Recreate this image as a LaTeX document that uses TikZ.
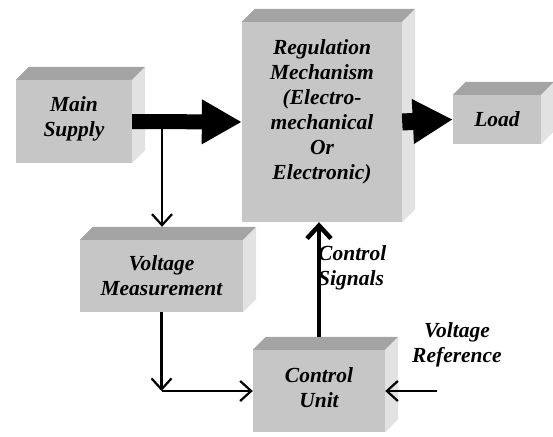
\documentclass[tikz,border=0pt]{standalone}
\usepackage{fontspec}
\setmainfont{Liberation Serif}[BoldItalicFont={Liberation Serif Bold Italic}]
\usetikzlibrary{arrows.meta}

\definecolor{boxfront}{HTML}{C6C6C6}
\definecolor{boxtop}{HTML}{A4A4A4}
\definecolor{boxside}{HTML}{E2E2E2}

% top and side faces of a block
\newcommand{\boxdepth}[1]{%
  \fill[boxtop] (#1.north west) -- ++(13,-13) -- ([shift={(13,-13)}]#1.north east) -- (#1.north east) -- cycle;
  \fill[boxside] (#1.north east) -- ++(13,-13) -- ([shift={(13,-13)}]#1.south east) -- (#1.south east) -- cycle;
}

\begin{document}
\begin{tikzpicture}[x=1pt, y=-1pt,
    block/.style={fill=boxfront, inner sep=0pt, align=center,
      font=\fontsize{21.5}{25}\selectfont\bfseries\itshape},
    label text/.style={inner sep=0pt,
      font=\fontsize{21.5}{25}\selectfont\bfseries\itshape},
    big arrow/.style={line width=15pt, -{Triangle[length=40pt,width=42pt]}},
    thin arrow/.style={line width=2.2pt, -{Straight Barb[length=11pt,width=20pt]}},
    signal arrow/.style={line width=4.5pt, -{Straight Barb[length=13pt,width=24pt]}},
    ]
    \useasboundingbox (0,0) rectangle (553,436);

    \node[block, minimum width=116pt, minimum height=83pt] (supply) at (74,121.5) {Main\\Supply\\[-15pt]~};
    \node[block, minimum width=160pt, minimum height=200pt] (reg) at (322,122)
      {Regulation\\Mechanism\\(Electro-\\mechanical\\Or\\Electronic)\\~};
    \node[block, minimum width=88pt, minimum height=49pt] (load) at (497,119.5) {Load};
    \node[block, minimum width=163pt, minimum height=72pt] (meas) at (161.5,276) {Voltage\\Measurement};
    \node[block, minimum width=132pt, minimum height=82pt] (ctrl) at (319,391) {Control\\Unit\\[-18pt]~};

    \boxdepth{supply}
    \boxdepth{reg}
    \boxdepth{load}
    \boxdepth{meas}
    \boxdepth{ctrl}

    \node[label text, anchor=west, align=left] (sig) at (318,268) {Control\\Signals};
    \node[label text, align=center] (vref) at (457,345) {Voltage\\Reference};

    \coordinate (tap) at (162,121);
    \coordinate (bend) at (meas.south |- ctrl.west);
    \coordinate (refin) at (437,391);

    \draw[big arrow] (supply.east) -- (reg.west);
    \draw[big arrow, line width=17pt] (reg.east) -- (load.west);
    \draw[thin arrow] (tap) -- ([yshift=13pt]tap |- meas.north);
    \draw[thin arrow] (meas.south) -- (bend);
    \draw[thin arrow] (bend) -- (ctrl.west);
    \draw[signal arrow] ([yshift=13pt]ctrl.north) -- (ctrl.north |- reg.south);
    \draw[thin arrow] (refin) -- (ctrl.east);

\end{tikzpicture}
\end{document}
